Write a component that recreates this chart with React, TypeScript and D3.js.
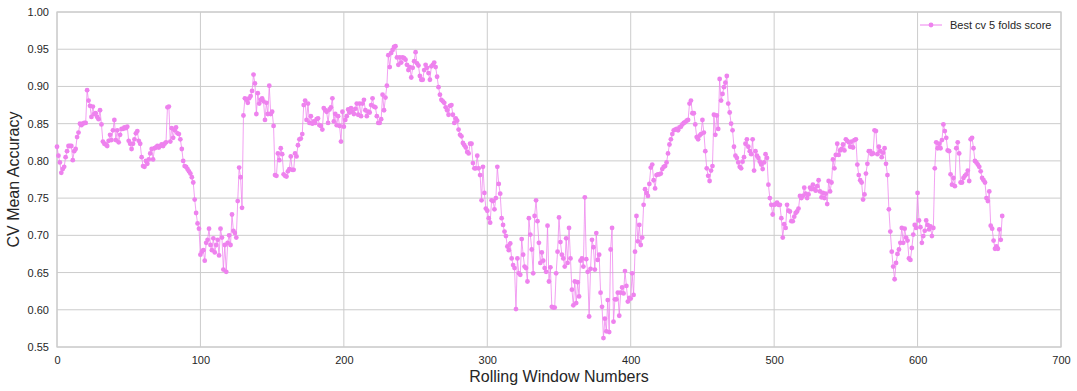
import React, {useEffect, useRef} from "react";
import {axisBottom, axisLeft, line, range, scaleLinear, select} from "d3";

// best cv score per rolling window in runs
const scoresPart1 = [
    0.819, 0.807, 0.798, 0.784, 0.789, 0.792, 0.805, 0.813, 0.820, 0.820,
    0.820, 0.801, 0.813, 0.816, 0.832, 0.838, 0.850, 0.848, 0.850, 0.851,
    0.851, 0.895, 0.881, 0.874, 0.859, 0.873, 0.863, 0.864, 0.859, 0.856,
    0.868, 0.849, 0.826, 0.823, 0.822, 0.820, 0.827, 0.835, 0.828, 0.841,
    0.855, 0.828, 0.841, 0.825, 0.835, 0.843, 0.843, 0.845, 0.844, 0.846,
    0.827, 0.823, 0.816, 0.823, 0.829, 0.837, 0.840, 0.827, 0.823, 0.805,
    0.793, 0.792, 0.800, 0.796, 0.802, 0.810, 0.816, 0.802, 0.817, 0.818,
    0.820, 0.818, 0.820, 0.822, 0.820, 0.823, 0.825, 0.872, 0.873, 0.826,
    0.844, 0.831, 0.841, 0.845, 0.837, 0.836, 0.829, 0.816, 0.800, 0.793,
    0.792, 0.789, 0.786, 0.783, 0.778, 0.771, 0.748, 0.730, 0.716, 0.709,
    0.674, 0.678, 0.680, 0.666, 0.690, 0.694, 0.709, 0.687, 0.680, 0.696,
    0.677, 0.687, 0.694, 0.673, 0.709, 0.697, 0.654, 0.687, 0.651, 0.690,
    0.700, 0.687, 0.728, 0.706, 0.703, 0.697, 0.746, 0.791, 0.778, 0.737,
    0.861
];

const scoresPart2 = [
    0.884, 0.882, 0.878, 0.884, 0.887, 0.894, 0.916, 0.904, 0.863, 0.891,
    0.877, 0.882, 0.884, 0.880, 0.855, 0.878, 0.863, 0.901, 0.863, 0.866,
    0.847, 0.781, 0.780, 0.810, 0.801, 0.817, 0.809, 0.782, 0.780, 0.779,
    0.786, 0.789, 0.806, 0.788, 0.788, 0.810, 0.806, 0.821, 0.829, 0.830,
    0.836, 0.875, 0.881, 0.855, 0.877, 0.851, 0.860, 0.850, 0.853, 0.851,
    0.856, 0.857, 0.848, 0.847, 0.842, 0.871, 0.868, 0.866, 0.851, 0.869,
    0.872, 0.884, 0.853, 0.863, 0.848
];

const scoresPart3 = [
    0.860, 0.847, 0.826, 0.866, 0.846, 0.855, 0.860, 0.869, 0.865, 0.871,
    0.866, 0.863, 0.870, 0.877, 0.862, 0.877, 0.860, 0.877, 0.882, 0.868,
    0.860, 0.866, 0.865, 0.875, 0.884, 0.873, 0.872, 0.860, 0.851, 0.851,
    0.856, 0.889, 0.868, 0.885, 0.901, 0.942, 0.926, 0.945, 0.949, 0.953,
    0.954, 0.939, 0.929, 0.939, 0.932, 0.939, 0.938, 0.936, 0.929, 0.922,
    0.926, 0.912, 0.925, 0.934, 0.946, 0.931, 0.928, 0.914, 0.909, 0.909,
    0.922, 0.929, 0.925, 0.918, 0.909, 0.927, 0.929, 0.932, 0.926, 0.913,
    0.899, 0.889, 0.882, 0.880, 0.878, 0.872, 0.868, 0.862, 0.874, 0.875,
    0.862, 0.851, 0.857, 0.854, 0.842, 0.835, 0.833, 0.824, 0.821, 0.818,
    0.812, 0.810, 0.823, 0.823, 0.797, 0.790, 0.790, 0.807, 0.790, 0.781,
    0.747, 0.792, 0.757, 0.736, 0.733, 0.723, 0.717, 0.747, 0.746, 0.735,
    0.750, 0.792, 0.769, 0.756, 0.723, 0.714, 0.705, 0.699, 0.685, 0.680,
    0.689, 0.669, 0.660, 0.656, 0.601, 0.669, 0.649, 0.647, 0.695, 0.674,
    0.658
];

const scoresPart4 = [
    0.656, 0.638, 0.723, 0.701, 0.681, 0.649, 0.726, 0.747, 0.719, 0.690,
    0.663, 0.677, 0.666, 0.656, 0.651, 0.713, 0.638, 0.657, 0.604, 0.603,
    0.603, 0.649, 0.678, 0.724, 0.691, 0.674, 0.669, 0.658, 0.696, 0.663,
    0.710, 0.669, 0.627, 0.606, 0.638, 0.609, 0.637, 0.618, 0.666, 0.669,
    0.658, 0.751, 0.668, 0.651, 0.591, 0.655, 0.694, 0.684, 0.654, 0.703,
    0.667, 0.674, 0.623, 0.604, 0.562, 0.588, 0.571, 0.613, 0.570, 0.681,
    0.710, 0.584, 0.614, 0.614, 0.623, 0.592
];

const scoresPart5 = [
    0.623, 0.630, 0.622, 0.652, 0.632, 0.611, 0.616, 0.615, 0.649, 0.620,
    0.678, 0.726, 0.692, 0.714, 0.687, 0.697, 0.741, 0.762, 0.757, 0.753,
    0.769, 0.791, 0.795, 0.774, 0.763, 0.781, 0.782, 0.782, 0.783, 0.789,
    0.792, 0.793, 0.798, 0.810, 0.822, 0.829, 0.836, 0.841, 0.842, 0.843,
    0.841, 0.845, 0.846, 0.849, 0.851, 0.852, 0.854, 0.855, 0.877, 0.881,
    0.864, 0.864, 0.849, 0.832, 0.829, 0.834, 0.836, 0.855, 0.838, 0.813,
    0.790, 0.780, 0.773, 0.787, 0.793
];

const scoresPart6 = [
    0.862, 0.835, 0.861, 0.843, 0.910, 0.881, 0.890, 0.899, 0.905, 0.914,
    0.877, 0.865, 0.850, 0.841, 0.819, 0.807, 0.804, 0.798, 0.792, 0.790,
    0.799, 0.805, 0.823, 0.829, 0.819, 0.813, 0.809, 0.829, 0.787, 0.813,
    0.807, 0.804, 0.799, 0.795, 0.789, 0.798, 0.809, 0.804, 0.768, 0.750,
    0.741, 0.728, 0.741, 0.742, 0.744, 0.741, 0.741, 0.723, 0.697, 0.715,
    0.710, 0.741, 0.733, 0.732, 0.719, 0.719, 0.725, 0.730, 0.732, 0.736,
    0.753, 0.750, 0.753, 0.764, 0.756
];

const scoresPart7 = [
    0.750, 0.755, 0.764, 0.762, 0.768, 0.762, 0.760, 0.766, 0.774, 0.759,
    0.751, 0.757, 0.750, 0.756, 0.742, 0.773, 0.759, 0.771, 0.802, 0.790,
    0.808, 0.823, 0.808, 0.814, 0.816, 0.822, 0.814, 0.829, 0.827, 0.825,
    0.819, 0.826, 0.818, 0.828, 0.829, 0.795, 0.781, 0.774, 0.771, 0.748,
    0.755, 0.783, 0.796, 0.813, 0.813, 0.809, 0.810, 0.841, 0.840, 0.809,
    0.819, 0.813, 0.805, 0.811, 0.817, 0.796, 0.781, 0.735, 0.705, 0.678,
    0.658, 0.641, 0.663, 0.675, 0.681, 0.690, 0.710
];

const scoresPart8 = [
    0.690, 0.709, 0.697, 0.693, 0.669, 0.667, 0.683, 0.701, 0.714, 0.710,
    0.757, 0.720, 0.711, 0.690, 0.699, 0.706, 0.720, 0.714, 0.708, 0.712,
    0.699, 0.710, 0.790, 0.825, 0.817, 0.823, 0.817, 0.828, 0.849, 0.840,
    0.831, 0.814, 0.813, 0.782, 0.768, 0.777, 0.766, 0.817, 0.825, 0.810,
    0.771, 0.771, 0.777, 0.780, 0.782, 0.787, 0.773, 0.829, 0.831, 0.817,
    0.800, 0.798, 0.795, 0.792, 0.786, 0.777, 0.774, 0.771, 0.750, 0.746,
    0.759, 0.713, 0.709, 0.693, 0.682, 0.685, 0.682, 0.708, 0.694, 0.726
];

const xTicks = [0, 100, 200, 300, 400, 500, 600, 700];
const yTicks = [0.55, 0.60, 0.65, 0.70, 0.75, 0.80, 0.85, 0.90, 0.95, 1.00];
const seriesName = "Best cv 5 folds score";

const width = 1077;
const height = 391;
const margin = {top: 12, right: 16, bottom: 44, left: 57};
const lineColor = "#ee82ee";
const gridColor = "#cccccc";
const textColor = "#262626";
const font = "'Liberation Sans', Arial, sans-serif";

function App() {
    const svgRef = useRef();

    const scores = [].concat(scoresPart1, scoresPart2, scoresPart3, scoresPart4,
        scoresPart5, scoresPart6, scoresPart7, scoresPart8);
    const data = scores.map((v, i) => ({x: i, y: v}));

    useEffect(() => {
        const svg = select(svgRef.current);
        svg.selectAll("*").remove();

        const xScale = scaleLinear()
            .domain([0, 700])
            .range([margin.left, width - margin.right]);
        const yScale = scaleLinear()
            .domain([0.55, 1.0])
            .range([height - margin.bottom, margin.top]);

        // grid
        svg.append("g")
            .selectAll("line.h")
            .data(yTicks)
            .join("line")
            .attr("x1", margin.left).attr("x2", width - margin.right)
            .attr("y1", d => yScale(d)).attr("y2", d => yScale(d))
            .attr("stroke", gridColor).attr("stroke-width", 1);
        svg.append("g")
            .selectAll("line.v")
            .data(xTicks)
            .join("line")
            .attr("x1", d => xScale(d)).attr("x2", d => xScale(d))
            .attr("y1", margin.top).attr("y2", height - margin.bottom)
            .attr("stroke", gridColor).attr("stroke-width", 1);

        // frame
        svg.append("rect")
            .attr("x", margin.left).attr("y", margin.top)
            .attr("width", width - margin.left - margin.right)
            .attr("height", height - margin.top - margin.bottom)
            .attr("fill", "none").attr("stroke", gridColor).attr("stroke-width", 1.25);

        // axes, text only
        const xAxis = svg.append("g")
            .attr("transform", `translate(0, ${height - margin.bottom})`)
            .call(axisBottom(xScale).tickValues(xTicks).tickSize(0).tickPadding(9).tickFormat(d => String(d)));
        const yAxis = svg.append("g")
            .attr("transform", `translate(${margin.left}, 0)`)
            .call(axisLeft(yScale).tickValues(yTicks).tickSize(0).tickPadding(8).tickFormat(d => d.toFixed(2)));
        [xAxis, yAxis].forEach(ax => {
            ax.select(".domain").remove();
            ax.selectAll("text")
                .attr("fill", textColor)
                .style("font-family", font)
                .style("font-size", "11px");
        });

        // series
        const path = line().x(d => xScale(d.x)).y(d => yScale(d.y));
        svg.append("path")
            .datum(data)
            .attr("d", path)
            .attr("fill", "none")
            .attr("stroke", lineColor)
            .attr("stroke-opacity", 0.75)
            .attr("stroke-width", 1);
        svg.append("g")
            .selectAll("circle")
            .data(data)
            .join("circle")
            .attr("cx", d => xScale(d.x))
            .attr("cy", d => yScale(d.y))
            .attr("r", 2.4)
            .attr("fill", lineColor);

        // axis labels
        svg.append("text")
            .attr("x", (margin.left + width - margin.right) / 2)
            .attr("y", height - 9)
            .attr("text-anchor", "middle")
            .attr("fill", textColor)
            .style("font-family", font)
            .style("font-size", "16px")
            .text("Rolling Window Numbers");
        svg.append("text")
            .attr("transform", `translate(19, ${(margin.top + height - margin.bottom) / 2}) rotate(-90)`)
            .attr("text-anchor", "middle")
            .attr("fill", textColor)
            .style("font-family", font)
            .style("font-size", "16px")
            .text("CV Mean Accuracy");

        // legend
        const legend = svg.append("g").attr("transform", `translate(${width - margin.right - 141}, 25)`);
        legend.append("line")
            .attr("x1", 0).attr("x2", 22).attr("y1", 0).attr("y2", 0)
            .attr("stroke", lineColor).attr("stroke-width", 1);
        legend.append("circle").attr("cx", 11).attr("cy", 0).attr("r", 2.4).attr("fill", lineColor);
        legend.append("text")
            .attr("x", 30).attr("y", 4)
            .attr("fill", textColor)
            .style("font-family", font)
            .style("font-size", "11px")
            .text(seriesName);
    }, [data]);

    return (
        <div style={{position: "absolute", left: 0, top: 0}}>
            <svg ref={svgRef} width={width} height={height} style={{display: "block", background: "#fff"}}/>
        </div>
    );
}

export default App;
